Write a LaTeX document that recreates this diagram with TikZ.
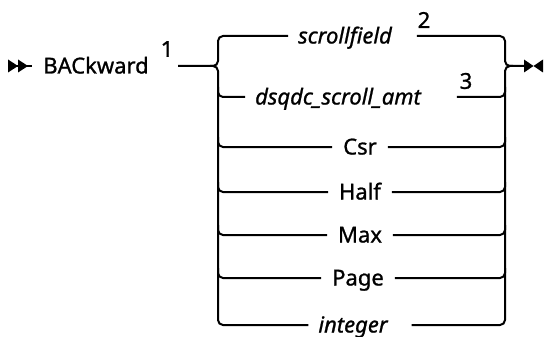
\documentclass[tikz,border=0pt]{standalone}
\usepackage{fontspec}
\setmainfont{Noto Sans}[FakeBold=1]
\usetikzlibrary{calc}
\begin{document}
\begin{tikzpicture}[x=1pt,y=-1pt,line width=2pt,
  lbl/.style={font=\fontsize{22}{26}\selectfont, inner ysep=0pt, inner xsep=10pt, anchor=base},
  ilbl/.style={lbl, font=\fontsize{22}{26}\selectfont\itshape},
  fn/.style={font=\fontsize{22}{26}\selectfont, inner sep=0pt},
  rnd/.style={rounded corners=5pt}]
\useasboundingbox (0,0) rectangle (544,337);
% start arrow
\coordinate (s0) at (8,66);
\fill (8,59.5) -- (18,66) -- (8,72.5) -- cycle;
\fill (18,59.5) -- (28,66) -- (18,72.5) -- cycle;
\node[lbl] (kw) at (96,73.5) {BACkward};
\draw (s0) -- (kw.west |- s0);
\node[fn] (n1) at (167,49) {1};
\coordinate (j0) at (178,66);
\coordinate (jl) at (218,66);
\coordinate (jr) at (505,66);
\coordinate (e0) at (524,66);
% rows
\node[ilbl, inner xsep=9pt] (t1) at (345,43.5) {scrollfield};
\node[fn] (n2) at (424,20) {2};
\node[ilbl, inner xsep=9pt] (t2) at (338,104.5) {dsqdc\_scroll\_amt};
\node[fn] (n3) at (466,81) {3};
\node[lbl] (t3) at (360,154.5) {Csr};
\node[lbl] (t4) at (360,199.5) {Half};
\node[lbl] (t5) at (360,242.5) {Max};
\node[lbl] (t6) at (358,285.5) {Page};
\node[ilbl, inner xsep=9pt] (t7) at (353,332.5) {integer};
\coordinate (L1) at (218,36);  \coordinate (R1) at (505,36);
\coordinate (L2) at (218,97);  \coordinate (R2) at (505,97);
\coordinate (L3) at (218,147); \coordinate (R3) at (505,147);
\coordinate (L4) at (218,192); \coordinate (R4) at (505,192);
\coordinate (L5) at (218,235); \coordinate (R5) at (505,235);
\coordinate (L6) at (218,278); \coordinate (R6) at (505,278);
\coordinate (L7) at (218,325); \coordinate (R7) at (505,325);
% left brace and rails
\draw[rnd] (j0) -- (jl) -- (L1) -- (L1 -| t1.west);
\draw[rnd] ($(jl)+(-8,0)$) -- (jl) -- (L7) -- (L7 -| t7.west);
% right brace and rails
\draw[rnd] ($(t1.east |- R1)+(15,0)$) -- (R1) -- (jr) -- (e0);
\draw[rnd] ($(t7.east |- R7)+(14,0)$) -- (R7) -- (jr) -- ($(jr)+(8,0)$);
% middle rows
\draw[rnd] ($(L2)+(0,-10)$) -- (L2) -- (L2 -| t2.west);
\draw[rnd] ($(t2.east |- R2)+(26,0)$) -- (R2) -- ($(R2)+(0,-10)$);
\foreach \i in {3,4,5,6}{
  \draw[rnd] ($(L\i)+(0,-10)$) -- (L\i) -- (L\i -| t\i.west);
  \draw[rnd] (t\i.east |- R\i) -- (R\i) -- ($(R\i)+(0,-10)$);
}
% end arrow
\fill (524,59.5) -- (533.5,66) -- (524,72.5) -- cycle;
\fill (543,59.5) -- (533.5,66) -- (543,72.5) -- cycle;
\end{tikzpicture}
\end{document}
